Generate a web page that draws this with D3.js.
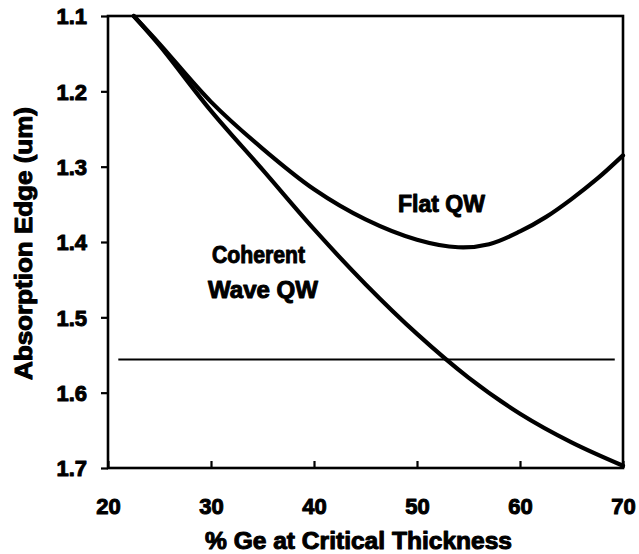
<!DOCTYPE html>
<html>
<head>
<meta charset="utf-8">
<script src="https://cdn.jsdelivr.net/npm/d3@7"></script>
<style>
  html, body { margin: 0; padding: 0; background: #fff; }
  svg { display: block; }
  text { font-family: "Liberation Sans", Arial, sans-serif; font-weight: bold; fill: #000; stroke: #000; stroke-width: 1px; stroke-linejoin: round; }
</style>
</head>
<body>
<svg id="chart" width="639" height="554"></svg>
<script>
// % Ge at critical thickness vs. absorption edge (um)
const geCoherent = [22.5, 25, 30, 35, 40, 45, 50, 55, 60, 65, 70];
const edgeCoherent = [1.100, 1.139, 1.226, 1.304, 1.383, 1.456, 1.522, 1.580, 1.628, 1.666, 1.697];

const geFlat = [22.5, 25, 30, 35, 40, 45, 50, 54, 57, 60, 62.5, 65, 67.5, 70];
const edgeFlat = [1.100, 1.137, 1.214, 1.276, 1.330, 1.370, 1.397, 1.407, 1.403, 1.386, 1.367, 1.343, 1.316, 1.285];

// reference wavelength line
const refEdge = 1.556;
const refRange = [21, 69.2];

const xTicks = [20, 30, 40, 50, 60, 70];
const yTicks = [1.1, 1.2, 1.3, 1.4, 1.5, 1.6, 1.7];

const svg = d3.select("#chart");
const m = { left: 108, top: 16, right: 16, bottom: 86 };
const W = 639 - m.left - m.right;
const H = 554 - m.top - m.bottom;

const x = d3.scaleLinear().domain([20, 70]).range([0, W]);
const y = d3.scaleLinear().domain([1.1, 1.7]).range([0, H]);

const g = svg.append("g").attr("transform", `translate(${m.left},${m.top})`);

// frame
g.append("rect")
  .attr("x", 0).attr("y", 0).attr("width", W).attr("height", H)
  .attr("fill", "none").attr("stroke", "#000").attr("stroke-width", 2.6);

// y axis: ticks point outward
const yAxis = g.append("g")
  .call(d3.axisLeft(y).tickValues(yTicks).tickFormat(d3.format(".1f")).tickSize(7).tickPadding(14));
yAxis.select(".domain").remove();
yAxis.selectAll(".tick line").attr("stroke", "#000").attr("stroke-width", 2.2);
yAxis.selectAll(".tick text")
  .attr("font-size", 22).attr("dy", "0.36em")
  .style("font-family", "'Liberation Sans', Arial, sans-serif");

// x axis: ticks point inward
const xAxis = g.append("g").attr("transform", `translate(0,${H})`)
  .call(d3.axisBottom(x).tickValues(xTicks).tickFormat(d3.format("d")).tickSize(-7));
xAxis.select(".domain").remove();
xAxis.selectAll(".tick line").attr("stroke", "#000").attr("stroke-width", 2.2);
xAxis.selectAll(".tick text")
  .attr("font-size", 22).attr("y", 46).attr("dy", null)
  .style("font-family", "'Liberation Sans', Arial, sans-serif");

// reference line
g.append("line")
  .attr("x1", x(refRange[0])).attr("x2", x(refRange[1]))
  .attr("y1", y(refEdge)).attr("y2", y(refEdge))
  .attr("stroke", "#000").attr("stroke-width", 2.2);

const line = d3.line()
  .x(d => x(d[0])).y(d => y(d[1]))
  .curve(d3.curveCatmullRom.alpha(0.5));

g.append("path")
  .datum(d3.zip(geCoherent, edgeCoherent))
  .attr("d", line)
  .attr("fill", "none").attr("stroke", "#000").attr("stroke-width", 4.2)
  .attr("stroke-linejoin", "round").attr("stroke-linecap", "round");

g.append("path")
  .datum(d3.zip(geFlat, edgeFlat))
  .attr("d", line)
  .attr("fill", "none").attr("stroke", "#000").attr("stroke-width", 4.2)
  .attr("stroke-linejoin", "round").attr("stroke-linecap", "round");

// series labels
svg.append("text").attr("x", 398).attr("y", 212).attr("font-size", 23)
  .attr("textLength", 87).attr("lengthAdjust", "spacingAndGlyphs").text("Flat QW");
svg.append("text").attr("x", 212).attr("y", 263).attr("font-size", 23)
  .attr("textLength", 93).attr("lengthAdjust", "spacingAndGlyphs").text("Coherent");
svg.append("text").attr("x", 208).attr("y", 298).attr("font-size", 23)
  .attr("textLength", 110).attr("lengthAdjust", "spacingAndGlyphs").text("Wave QW");

// axis titles
svg.append("text").attr("x", 205).attr("y", 549).attr("font-size", 23)
  .attr("textLength", 307).attr("lengthAdjust", "spacingAndGlyphs")
  .text("% Ge at Critical Thickness");
svg.append("text")
  .attr("transform", "translate(32,380) rotate(-90)")
  .attr("font-size", 23)
  .attr("textLength", 273).attr("lengthAdjust", "spacingAndGlyphs")
  .text("Absorption Edge (um)");
</script>
</body>
</html>
